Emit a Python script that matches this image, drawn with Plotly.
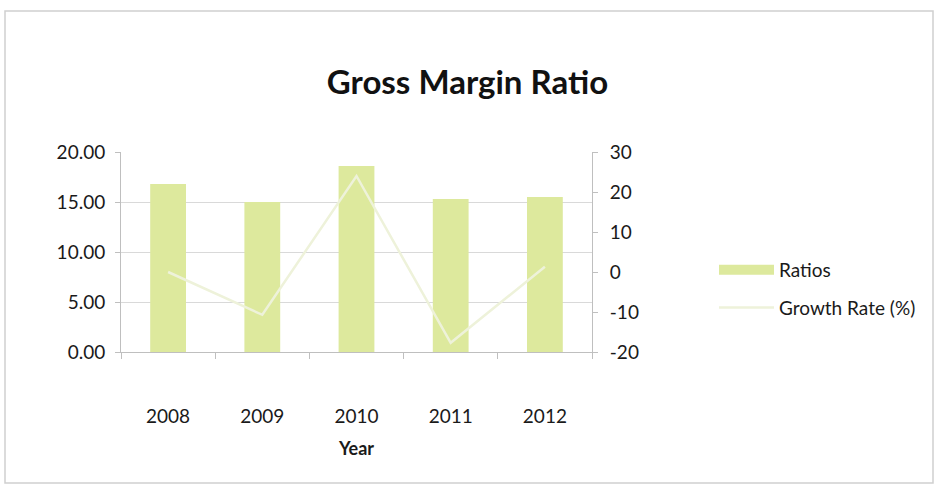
import plotly.graph_objects as go

# Gross margin ratio by year, with year-on-year growth (%)
years = ["2008", "2009", "2010", "2011", "2012"]
ratios = [16.8, 15.0, 18.6, 15.3, 15.5]
growth_rate = [0.0, -10.7, 24.0, -17.7, 1.3]

left_ticks = [0, 5, 10, 15, 20]
right_ticks = [-20, -10, 0, 10, 20, 30]
right_labels = [str(v) for v in right_ticks]  # plain hyphen minus

BAR_COLOR = "#dde99d"
LINE_COLOR = "#eef2da"
GRID = "#d9d9d9"
AXIS = "#bfbfbf"
FONT = "Lato, 'Open Sans', sans-serif"

W, H = 935, 486
L, R, T, B = 121, 592, 152, 352  # plot area in pixels

fig = go.Figure()

fig.add_trace(go.Bar(
    x=years, y=ratios, name="Ratios",
    marker=dict(color=BAR_COLOR, line=dict(width=0)),
    width=0.38, showlegend=False, yaxis="y",
))
fig.add_trace(go.Scatter(
    x=years, y=growth_rate, name="Growth Rate (%)",
    mode="lines", line=dict(color=LINE_COLOR, width=2.5),
    yaxis="y2", showlegend=False,
))
# legend entries (wide swatch for the bars, thin line for growth)
fig.add_trace(go.Scatter(
    x=[None], y=[None], name="Ratios", mode="lines", legendgroup="a",
    line=dict(color=BAR_COLOR, width=12), showlegend=True,
))
fig.add_trace(go.Scatter(
    x=[None], y=[None], name="Growth Rate (%)", mode="lines", legendgroup="b",
    line=dict(color=LINE_COLOR, width=2.5), showlegend=True,
))

def px_x(p):
    return (p - L) / (R - L)

def px_y(p):
    return (B - p) / (B - T)

TICK_SIZE = 19

fig.update_layout(
    width=W, height=H,
    margin=dict(l=L, r=W - R, t=T, b=H - B, pad=0),
    paper_bgcolor="white", plot_bgcolor="white",
    font=dict(family=FONT, size=TICK_SIZE, color="#1a1a1a"),
    title=dict(
        text="<b>Gross Margin Ratio</b>",
        font=dict(family=FONT, size=33, color="#111111"),
        x=0.5, xanchor="center", xref="container",
        y=1 - 82 / H, yanchor="middle", yref="container",
    ),
    xaxis=dict(
        type="category", showgrid=False,
        showline=True, linecolor=AXIS, linewidth=1,
        ticks="outside", tickson="boundaries", ticklen=6, tickcolor=AXIS,
        ticklabelstandoff=47,
        tickfont=dict(size=TICK_SIZE),
        title=dict(text="<b>Year</b>", font=dict(size=18), standoff=16),
    ),
    yaxis=dict(
        range=[0, 20], tickvals=left_ticks, tickformat=".2f",
        showgrid=True, gridcolor=GRID, gridwidth=1,
        showline=True, linecolor=AXIS, linewidth=1,
        ticks="outside", ticklen=5, tickcolor=AXIS,
        ticklabelstandoff=6, zeroline=False,
        tickfont=dict(size=TICK_SIZE),
    ),
    yaxis2=dict(
        range=[-20, 30], tickvals=right_ticks, ticktext=right_labels,
        overlaying="y", side="right",
        showgrid=False, zeroline=False,
        showline=True, linecolor=AXIS, linewidth=1,
        ticks="outside", ticklen=5, tickcolor=AXIS,
        ticklabelstandoff=8,
        tickfont=dict(size=TICK_SIZE),
    ),
    legend=dict(
        xref="container", yref="container",
        x=714 / W, y=1 - 251 / H, xanchor="left", yanchor="top",
        font=dict(size=TICK_SIZE), itemwidth=55, tracegroupgap=10,
        bgcolor="rgba(0,0,0,0)",
    ),
    bargap=0.62,
    shapes=[dict(
        type="rect", xref="paper", yref="paper",
        x0=px_x(5), x1=px_x(933), y0=px_y(483), y1=px_y(11),
        line=dict(color="#d0d0d0", width=1.5), layer="below",
    )],
)

fig.write_html("out.html")
